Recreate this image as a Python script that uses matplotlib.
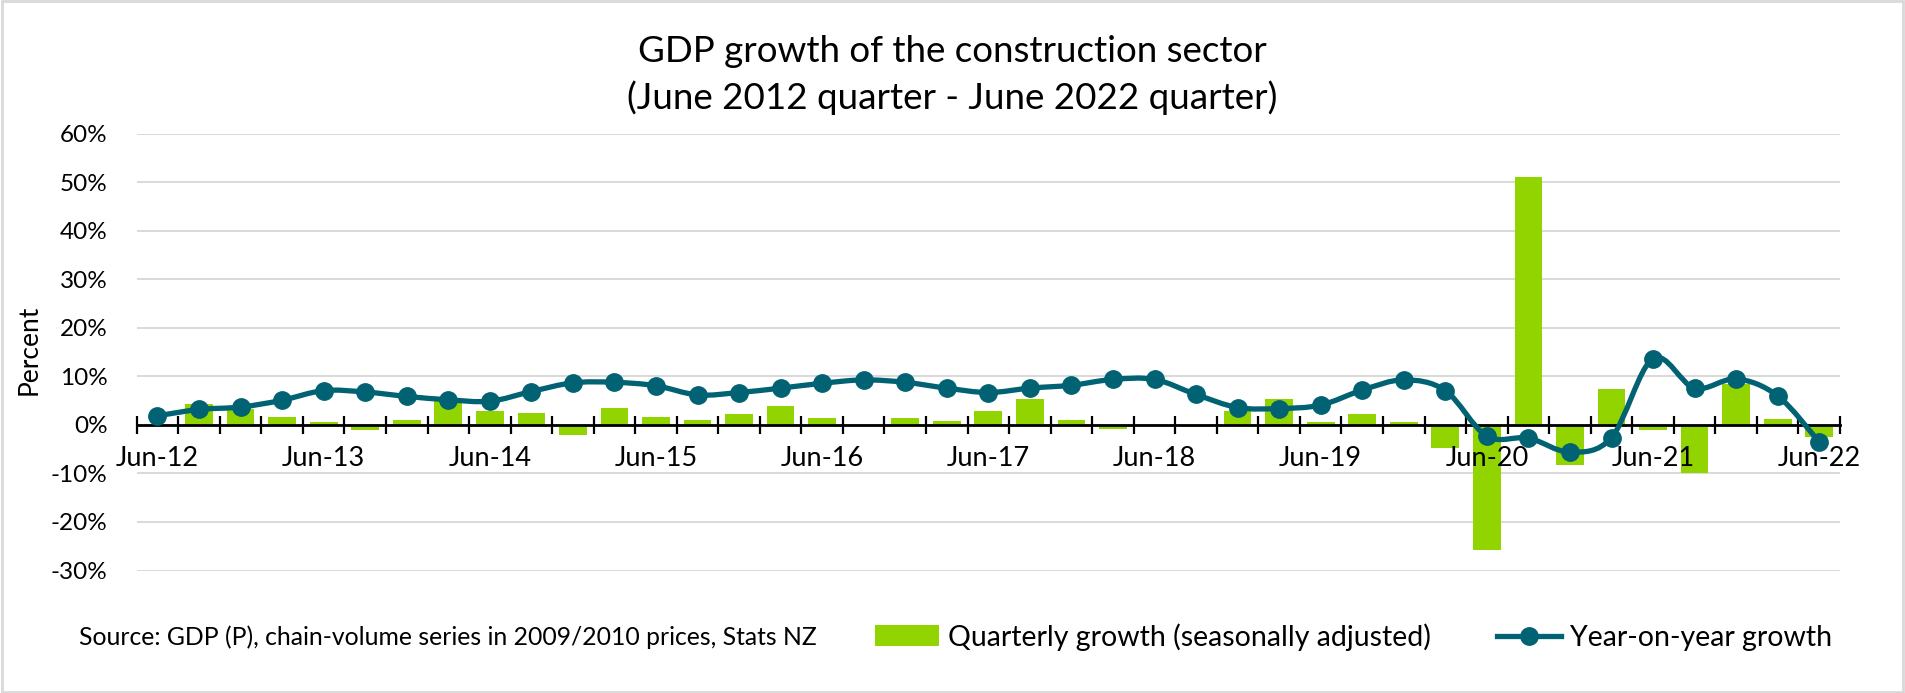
import matplotlib
matplotlib.use("Agg")
import matplotlib.pyplot as plt
import numpy as np
from matplotlib.path import Path
from matplotlib.patches import PathPatch, Rectangle, Patch
from matplotlib.lines import Line2D

plt.rcParams['font.family'] = ['Lato', 'DejaVu Sans']

quarters = ["Jun-12", "Sep-12", "Dec-12", "Mar-13", "Jun-13", "Sep-13", "Dec-13", "Mar-14",
            "Jun-14", "Sep-14", "Dec-14", "Mar-15", "Jun-15", "Sep-15", "Dec-15", "Mar-16",
            "Jun-16", "Sep-16", "Dec-16", "Mar-17", "Jun-17", "Sep-17", "Dec-17", "Mar-18",
            "Jun-18", "Sep-18", "Dec-18", "Mar-19", "Jun-19", "Sep-19", "Dec-19", "Mar-20",
            "Jun-20", "Sep-20", "Dec-20", "Mar-21", "Jun-21", "Sep-21", "Dec-21", "Mar-22",
            "Jun-22"]

quarterly_growth = [-0.3, 4.4, 3.2, 1.6, 0.7, -1.1, 1.0, 4.9, 2.8, 2.4, -2.1, 3.6, 1.7, 1.1,
                    2.3, 4.0, 1.5, 0.1, 1.5, 0.8, 2.9, 5.4, 1.0, -0.9, 0.1, -0.5, 2.8, 5.4,
                    0.6, 2.2, 0.6, -4.7, -25.8, 51.1, -8.3, 7.5, -1.0, -10.0, 8.4, 1.3, -2.4]

yoy_growth = [1.9, 3.2, 3.7, 5.1, 7.1, 6.8, 5.9, 5.2, 4.9, 6.9, 8.7, 8.8, 8.1, 6.2, 6.7, 7.6,
              8.6, 9.3, 8.8, 7.6, 6.7, 7.6, 8.2, 9.4, 9.4, 6.3, 3.6, 3.4, 4.1, 7.2, 9.3, 7.1,
              -2.3, -2.7, -5.6, -2.6, 13.7, 7.6, 9.5, 6.0, -3.5]

y_ticks = [-30, -20, -10, 0, 10, 20, 30, 40, 50, 60]

GREEN = '#92D400'
TEAL = '#006272'
GRID = '#D9D9D9'

W, H = 1905, 693
fig = plt.figure(figsize=(W / 100, H / 100), dpi=100)
ax = fig.add_axes([136.7 / W, 1 - 570.5 / H, (1840 - 136.7) / W, (570.5 - 134) / H])

n = len(quarters)
x = np.arange(n)

ax.bar(x, quarterly_growth, width=0.667, color=GREEN, zorder=2)

# smoothed line (Excel-style bezier smoothing through the data points)
pts = np.column_stack([x, yoy_growth]).astype(float)
verts = [tuple(pts[0])]
codes = [Path.MOVETO]
for i in range(n - 1):
    p_prev = pts[i - 1] if i > 0 else pts[i]
    p0 = pts[i]
    p1 = pts[i + 1]
    p_next = pts[i + 2] if i + 2 < n else pts[i + 1]
    c1 = p0 + (p1 - p_prev) / 6.0
    c2 = p1 - (p_next - p0) / 6.0
    verts += [tuple(c1), tuple(c2), tuple(p1)]
    codes += [Path.CURVE4] * 3
ax.add_patch(PathPatch(Path(verts, codes), facecolor='none', edgecolor=TEAL,
                       lw=3.8, zorder=4, capstyle='round', joinstyle='round'))
ax.plot(x, yoy_growth, 'o', ms=12.5, color=TEAL, zorder=5)

ax.set_xlim(-0.5, n - 0.5)
ax.set_ylim(-30, 60)
ax.set_yticks(y_ticks)
ax.set_yticklabels([f"{v}%" for v in y_ticks])
ax.yaxis.grid(True, color=GRID, lw=1.4)
ax.tick_params(axis='y', length=0, pad=21, labelsize=17.5)
ax.yaxis.set_zorder(0.5)
ax.xaxis.set_zorder(3)

for s in ['top', 'right', 'left']:
    ax.spines[s].set_visible(False)
ax.spines['bottom'].set_position(('data', 0))
ax.spines['bottom'].set_linewidth(2.0)
ax.spines['bottom'].set_zorder(3)

ax.set_xticks(np.arange(n + 1) - 0.5)
ax.set_xticklabels([])
ax.set_xticks(x[::4], minor=True)
ax.set_xticklabels([quarters[i] for i in x[::4]], minor=True)
ax.tick_params(axis='x', which='major', direction='inout', length=12.5, width=1.6)
ax.tick_params(axis='x', which='minor', length=0, pad=15, labelsize=19.5)

fig.text(29 / W, 1 - 350 / H, "Percent", rotation=90, ha='center', va='center', fontsize=19)

fig.text(952 / W, 1 - 52 / H, "GDP growth of the construction sector", ha='center', va='center',
         fontsize=26.5)
fig.text(952 / W, 1 - 98 / H, "(June 2012 quarter - June 2022 quarter)", ha='center', va='center',
         fontsize=26.5)

fig.text(79 / W, 1 - 637 / H, "Source: GDP (P), chain-volume series in 2009/2010 prices, Stats NZ",
         ha='left', va='center', fontsize=17.8)

handles = [Patch(facecolor=GREEN, edgecolor='none'),
           Line2D([0], [0], color=TEAL, lw=3.8, marker='o', ms=12.5)]
labels = ["Quarterly growth (seasonally adjusted)", "Year-on-year growth"]
fig.legend(handles, labels, ncol=2, loc='center left', bbox_to_anchor=(875 / W, 1 - 637 / H),
           frameon=False, fontsize=20.5, handlelength=2.25, handleheight=0.75, handletextpad=0.32,
           columnspacing=2.3, borderpad=0, borderaxespad=0)

fig.patches.append(Rectangle((0.001, 0.002), 0.998, 0.996, transform=fig.transFigure,
                             fill=False, edgecolor=GRID, lw=2))

fig.savefig("out.png", dpi=100)
